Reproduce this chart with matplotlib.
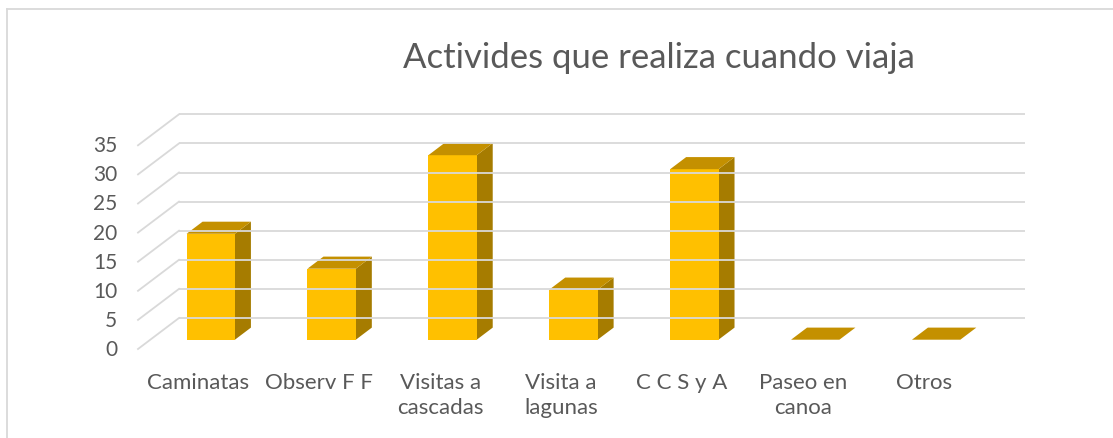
import numpy as np
import matplotlib
matplotlib.use("Agg")
import matplotlib.pyplot as plt
from matplotlib.patches import Polygon
from matplotlib.lines import Line2D

plt.rcParams['font.family'] = ['Lato', 'DejaVu Sans']

# data
categorias = ["Caminatas", "Observ F F", "Visitas a\ncascadas", "Visita a\nlagunas",
              "C C S y A", "Paseo en\ncanoa", "Otros"]
valores = [18.2, 12.2, 31.7, 8.6, 29.3, 0, 0]
ticks = [0, 5, 10, 15, 20, 25, 30, 35]
titulo = "Activides que realiza cuando viaja"

W, H = 1113, 439
fig = plt.figure(figsize=(W / 100, H / 100), dpi=100)
ax = fig.add_axes([0, 0, 1, 1])
ax.axis('off')

# pixel scale of the pseudo-3d plot
px_x = 120.9      # px per category slot
px_y = 5.82       # px per value unit
x0, y0 = 138, 350  # front-left corner of the floor
ax.set_xlim(-x0 / px_x, (W - x0) / px_x)
ax.set_ylim(-(H - y0) / px_y, y0 / px_y)

DX = 41 / px_x    # depth offset
DY = 31 / px_y
n = len(categorias)
grid_c = "#d9d9d9"
txt_c = "#595959"

for t in ticks:
    ax.plot([DX, n + DX], [t + DY, t + DY], color=grid_c, lw=1.3, solid_capstyle='butt')
    ax.plot([0, DX], [t, t + DY], color=grid_c, lw=1.3)
    ax.text(-0.172, t, str(t), ha='right', va='center', fontsize=15, color=txt_c)

w = 0.4
f0, f1 = 0.30, 0.69
c_front, c_top, c_side = "#ffc000", "#c49000", "#a67c00"
for i, v in enumerate(valores):
    xl, xr = i + 0.5 - w / 2, i + 0.5 + w / 2
    a = (f0 * DX, f0 * DY)
    b = (f1 * DX, f1 * DY)
    side = [(xr + a[0], a[1]), (xr + b[0], b[1]), (xr + b[0], v + b[1]), (xr + a[0], v + a[1])]
    front = [(xl + a[0], a[1]), (xr + a[0], a[1]), (xr + a[0], v + a[1]), (xl + a[0], v + a[1])]
    top = [(xl + a[0], v + a[1]), (xr + a[0], v + a[1]), (xr + b[0], v + b[1]), (xl + b[0], v + b[1])]
    if v > 0:
        ax.add_patch(Polygon(side, closed=True, fc=c_side, ec='none'))
        ax.add_patch(Polygon(front, closed=True, fc=c_front, ec='none'))
    ax.add_patch(Polygon(top, closed=True, fc=c_top, ec='none'))

for i, c in enumerate(categorias):
    ax.text(i + 0.5, -3.9, c, ha='center', va='top', fontsize=16, color=txt_c,
            linespacing=1.35)

fig.text(659 / W, 1 - 58 / H, titulo, ha='center', va='center', fontsize=25,
         color=txt_c, fontweight='normal')

# chart frame (only left and top edges visible)
fig.add_artist(Line2D([7 / W, 7 / W], [0, 1 - 10 / H], color=grid_c, lw=1.3,
                      transform=fig.transFigure))
fig.add_artist(Line2D([7 / W, 1], [1 - 10 / H, 1 - 10 / H], color=grid_c, lw=1.3,
                      transform=fig.transFigure))

fig.savefig("out.png", dpi=100, facecolor='white')
